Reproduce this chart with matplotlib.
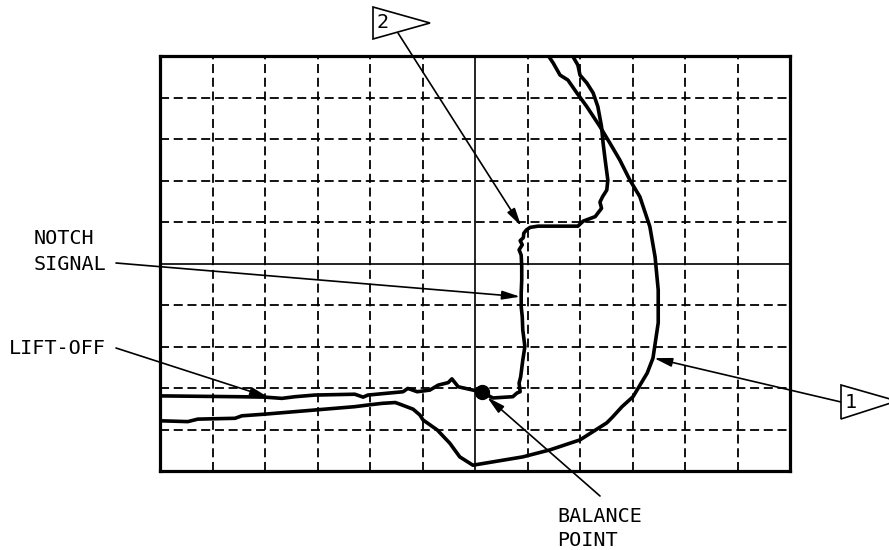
import matplotlib
matplotlib.use("Agg")
import matplotlib.pyplot as plt
from matplotlib.patches import Polygon

W, H, DPI = 889, 550, 100

# Eddy-current impedance-plane traces, in screen divisions (origin = screen centre)
liftoff_x = [-6.00, -4.51, -4.00, -3.68, -3.43, -3.05, -2.29, -2.13, -2.04,
             -1.37, -1.28, -1.10, -0.86, -0.70, -0.51, -0.44, -0.32, -0.04, 0.13]
liftoff_y = [-3.19, -3.21, -3.22, -3.25, -3.21, -3.17, -3.15, -3.22, -3.17,
             -3.09, -3.01, -3.09, -3.05, -2.93, -2.87, -2.78, -2.97, -3.05, -3.10]

notch_x = [0.13, 0.34, 0.59, 0.72, 0.80, 0.86, 0.84, 0.87, 0.91, 0.95, 0.91,
           0.90, 0.88, 0.88, 0.89, 0.89, 0.88, 0.84, 0.90, 0.86, 0.92, 0.93,
           0.98, 1.05, 1.20, 1.96, 2.06, 2.29, 2.41, 2.38, 2.43, 2.51, 2.53,
           2.48, 2.44, 2.41, 2.34, 2.25, 2.13, 2.00, 1.96, 1.85]
notch_y = [-3.10, -3.24, -3.22, -3.21, -3.12, -3.09, -2.88, -2.73, -2.33, -2.00, -1.60,
           -1.28, -1.04, -0.71, -0.40, -0.08, 0.20, 0.33, 0.45, 0.55, 0.62, 0.73,
           0.81, 0.87, 0.90, 0.90, 1.02, 1.13, 1.33, 1.48, 1.61, 1.77, 2.01,
           2.49, 2.90, 3.30, 3.78, 4.11, 4.35, 4.54, 4.78, 5.02]

signal_x = [-6.00, -5.47, -5.28, -4.57, -4.44, -4.00, -3.43, -3.05, -2.29, -2.04,
            -1.77, -1.52, -1.43, -1.18, -1.05, -0.99, -0.72, -0.48, -0.29, -0.04,
            0.34, 0.91, 1.43, 2.00, 2.51, 2.62, 2.80, 3.01, 3.28, 3.39, 3.49,
            3.49, 3.43, 3.33, 3.14, 2.95, 2.76, 2.57, 2.38, 2.13, 1.94, 1.77,
            1.62, 1.49, 1.39]
signal_y = [-3.79, -3.81, -3.75, -3.73, -3.67, -3.63, -3.57, -3.53, -3.45, -3.41,
            -3.37, -3.35, -3.39, -3.51, -3.65, -3.77, -4.01, -4.33, -4.66, -4.86,
            -4.78, -4.66, -4.49, -4.25, -3.84, -3.70, -3.45, -3.21, -2.64, -2.28, -1.43,
            -0.64, 0.16, 0.89, 1.61, 2.01, 2.49, 2.90, 3.30, 3.78, 4.11, 4.42,
            4.54, 4.83, 5.02]

balance_pt = (0.13, -3.10)

# Leader targets on the traces (divisions)
notch_tip = (0.86, -0.80)
flag2_tip = (0.88, 0.90)
liftoff_tip = (-3.94, -3.22)
balance_tip = (0.23, -3.22)
flag1_tip = (3.41, -2.28)

fig = plt.figure(figsize=(W / DPI, H / DPI), dpi=DPI)
fig.patch.set_facecolor("white")

ax = fig.add_axes([160 / W, 1 - 471 / H, 630 / W, 415 / H])
ax.set_xlim(-6, 6)
ax.set_ylim(-5, 5)
ax.set_xticks([])
ax.set_yticks([])
for sp in ax.spines.values():
    sp.set_linewidth(2.3)

dash = (0, (5, 2.6))
for gx in range(-5, 6):
    if gx == 0:
        ax.axvline(gx, color="black", lw=1.2, zorder=1)
    else:
        ax.axvline(gx, color="black", lw=1.3, ls=dash, zorder=1)
for gy in range(-4, 5):
    if gy == 0:
        ax.axhline(gy, color="black", lw=1.2, zorder=1)
    else:
        ax.axhline(gy, color="black", lw=1.3, ls=dash, zorder=1)

trace_kw = dict(color="black", lw=2.6, solid_joinstyle="round", solid_capstyle="round", zorder=3)
ax.plot(signal_x, signal_y, **trace_kw)
ax.plot(notch_x, notch_y, **trace_kw)
ax.plot(liftoff_x, liftoff_y, **trace_kw)
ax.plot(*balance_pt, "o", color="black", ms=10, zorder=4)

# Overlay in pixel units for callouts
ov = fig.add_axes([0, 0, 1, 1])
ov.set_xlim(0, W)
ov.set_ylim(H, 0)
ov.axis("off")
ov.patch.set_visible(False)

font = dict(family="DejaVu Sans Mono", fontsize=14.5, color="black", va="center", ha="left")
ov.text(34, 239, "NOTCH", **font)
ov.text(34, 265, "SIGNAL", **font)
ov.text(9, 348, "LIFT-OFF", **font)
ov.text(557, 516, "BALANCE", **font)
ov.text(557, 541, "POINT", **font)

# Flag notes
ov.add_patch(Polygon([(373, 7), (430, 23), (373, 39)], closed=True, fc="white",
                     ec="black", lw=1.2, clip_on=False))
ov.text(377, 23, "2", **font)
ov.add_patch(Polygon([(841, 385), (897, 401), (841, 419)], closed=True, fc="white",
                     ec="black", lw=1.2, clip_on=False))
ov.text(845, 403, "1", **font)

arrow = dict(arrowstyle="-|>,head_length=0.9,head_width=0.22", color="black",
             lw=1.2, shrinkA=0, shrinkB=0, mutation_scale=12)


def leader(tip, px, py):
    ax.annotate("", xy=tip, xycoords="data", xytext=(px, H - py),
                textcoords="figure pixels", arrowprops=arrow,
                annotation_clip=False, zorder=5)


leader(flag2_tip, 398, 33)
leader(notch_tip, 116, 263)
leader(liftoff_tip, 116, 348)
leader(balance_tip, 600, 496)
leader(flag1_tip, 841, 402)

fig.savefig("out.png", dpi=DPI)
